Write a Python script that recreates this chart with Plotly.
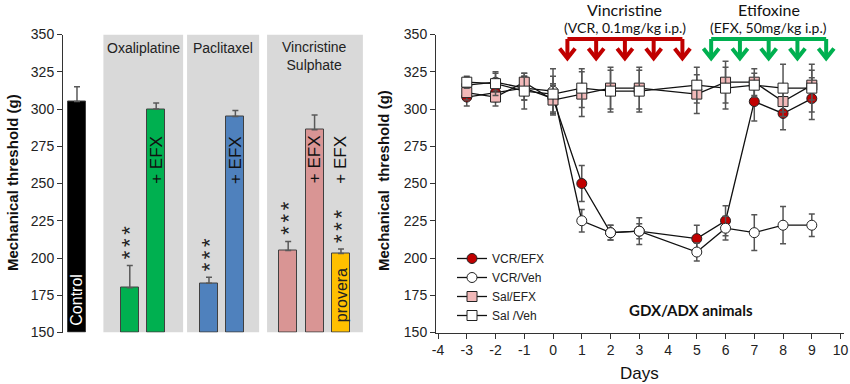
import plotly.graph_objects as go

# ---------------- Left panel data ----------------
bar_names = ["Control", "Oxaliplatine", "Oxaliplatine + EFX", "Paclitaxel",
             "Paclitaxel + EFX", "Vincristine", "Vincristine + EFX",
             "Vincristine + provera + EFX"]
bar_slots = [0, 2, 3, 5, 6, 8, 9, 10]
bar_values = [305, 180, 300, 183, 295, 205, 286, 203]
bar_errors = [10, 15, 4, 4, 4, 6, 10, 3]
bar_colors = ["#000000", "#00b050", "#00b050", "#4f81bd", "#4f81bd",
              "#d99594", "#d99594", "#ffc000"]
star_bars = [1, 3, 5, 7]
efx_bars = [2, 4, 6, 7]
group_titles = ["Oxaliplatine", "Paclitaxel", "Vincristine<br>Sulphate"]
group_panels = [(1.0, 4.02), (4.17, 6.9), (7.2, 10.83)]
y_ticks = [150, 175, 200, 225, 250, 275, 300, 325, 350]

# ---------------- Right panel data ----------------
days = [-3, -2, -1, 0, 1, 2, 3, 5, 6, 7, 8, 9]
vcr_efx = [308, 311, 314, 307, 250, 217, 218, 213, 225, 305, 297, 307]
vcr_efx_err = [6, 6, 8, 10, 12, 5, 9, 9, 10, 13, 11, 14]
vcr_veh = [316, 318, 314, 312, 225, 217, 218, 204, 220, 217, 222, 222]
vcr_veh_err = [5, 6, 8, 15, 7.5, 5, 5, 6, 8, 12, 12.5, 7.5]
sal_efx = [311, 308, 318, 306, 310, 314, 314, 310, 318, 318, 305, 316]
sal_efx_err = [5, 6, 6, 10, 15, 14, 14, 13, 14, 9, 10, 10]
sal_veh = [318, 317, 312, 310, 314, 312, 312, 316, 314, 316, 314, 314]
sal_veh_err = [4, 8, 12, 12, 13, 14, 14, 12, 14, 8, 16, 16]
day_ticks = list(range(-4, 11))
day_labels = [str(d) for d in day_ticks]
vcr_doses = [0.5, 1.5, 2.5, 3.5, 4.5]
efx_doses = [5.5, 6.5, 7.5, 8.5, 9.5]

FONT = "Liberation Sans, Arial, sans-serif"
CAL = "Lato, Open Sans, sans-serif"
W, H = 850, 384
Y0 = 1 - 332.5 / H
Y1 = 1 - 34.5 / H

fig = go.Figure()

# Left bars
fig.add_trace(go.Bar(
    x=bar_slots, y=[v - 150 for v in bar_values], base=150,
    width=0.68, marker=dict(color=bar_colors, line=dict(color="#404040", width=1)),
    error_y=dict(type="data", array=bar_errors, arrayminus=[0]*len(bar_errors),
                 symmetric=False, color="#595959", thickness=1.5, width=3),
    xaxis="x", yaxis="y", showlegend=False, hoverinfo="skip"))

# Right series
series = [
    ("VCR/EFX", vcr_efx, vcr_efx_err, "circle", "#c00000"),
    ("VCR/Veh", vcr_veh, vcr_veh_err, "circle", "#ffffff"),
    ("Sal/EFX", sal_efx, sal_efx_err, "square", "#f2b9b9"),
    ("Sal /Veh", sal_veh, sal_veh_err, "square", "#ffffff"),
]
for name, vals, errs, sym, col in series:
    fig.add_trace(go.Scatter(
        x=days, y=vals, name=name, mode="lines+markers",
        line=dict(color="#111111", width=1.3),
        marker=dict(symbol=sym, size=10, color=col, line=dict(color="#222222", width=1)),
        error_y=dict(type="data", array=errs, color="#555555", thickness=1.5, width=3),
        xaxis="x2", yaxis="y2"))

shapes = []
for (a, b) in group_panels:
    shapes.append(dict(type="rect", xref="x", yref="y", x0=a, x1=b, y0=150, y1=350,
                       fillcolor="#d9d9d9", line=dict(width=0), layer="below"))

def dose_shapes(doses, color):
    out = []
    lw = 4
    top = 347
    out.append(dict(type="line", xref="x2", yref="y2", x0=doses[0], x1=doses[-1],
                    y0=top, y1=top, line=dict(color=color, width=lw)))
    for d in doses:
        out.append(dict(type="line", xref="x2", yref="y2", x0=d, x1=d, y0=top, y1=335,
                        line=dict(color=color, width=lw)))
        out.append(dict(type="path", xref="x2", yref="y2",
                        path=f"M {d-0.27},340.6 L {d},334 L {d+0.27},340.6",
                        line=dict(color=color, width=lw)))
    return out

shapes += dose_shapes(vcr_doses, "#c00000")
shapes += dose_shapes(efx_doses, "#00b050")

ann = []
for t, (a, b) in zip(group_titles, group_panels):
    ann.append(dict(text=t, x=(a + b) / 2, y=1 - (48 if "<br>" not in t else 56) / H,
                    xref="x", yref="paper", showarrow=False, xanchor="center", yanchor="middle",
                    font=dict(family=FONT, size=14, color="#222222")))
for i in star_bars:
    ann.append(dict(text="*\u2006*\u2006*", x=bar_slots[i], y=bar_values[i] + bar_errors[i],
                    yshift=23, xref="x", yref="y", showarrow=False, textangle=-90,
                    xanchor="center", yanchor="middle",
                    font=dict(family=FONT, size=22, color="#222222")))
for i in efx_bars:
    ann.append(dict(text="+ EFX", x=bar_slots[i], y=266, xref="x", yref="y", showarrow=False,
                    textangle=-90, xanchor="center", yanchor="middle",
                    font=dict(family=FONT, size=17, color="#111111")))
ann.append(dict(text="Control", x=bar_slots[0], y=172, xref="x", yref="y", showarrow=False,
                textangle=-90, xanchor="center", yanchor="middle",
                font=dict(family=FONT, size=16, color="#ffffff")))
ann.append(dict(text="provera", x=bar_slots[7], y=175, xref="x", yref="y", showarrow=False,
                textangle=-90, xanchor="center", yanchor="middle",
                font=dict(family=FONT, size=16, color="#222222")))
# axis titles
ann.append(dict(text="<b>Mechanical threshold (g)</b>", x=12 / W, y=1 - 183 / H,
                xref="paper", yref="paper", showarrow=False, textangle=-90,
                xanchor="center", yanchor="middle",
                font=dict(family=FONT, size=15, color="#111111")))
ann.append(dict(text="<b>Mechanical  threshold (g)</b>", x=383 / W, y=1 - 181 / H,
                xref="paper", yref="paper", showarrow=False, textangle=-90,
                xanchor="center", yanchor="middle",
                font=dict(family=FONT, size=15, color="#111111")))
ann.append(dict(text="Days", x=3.0, y=1 - 373 / H, xref="x2", yref="paper", showarrow=False,
                xanchor="center", yanchor="middle",
                font=dict(family=FONT, size=17, color="#111111")))
ann.append(dict(text="<b>GDX/ADX animals</b>", x=4.8, y=1 - 310 / H, xref="x2", yref="paper",
                showarrow=False, xanchor="center", yanchor="middle",
                font=dict(family=CAL, size=15, color="#111111")))
for txt, xc, yc, sz in [("Vincristine", 2.5, 9, 16), ("(VCR, 0.1mg/kg i.p.)", 2.5, 28, 14),
                        ("Etifoxine", 7.5, 9, 16), ("(EFX, 50mg/kg i.p.)", 7.5, 28, 14)]:
    ann.append(dict(text=txt, x=xc, y=1 - yc / H, xref="x2", yref="paper", showarrow=False,
                    xanchor="center", yanchor="middle",
                    font=dict(family=CAL, size=sz, color="#111111")))

yax = dict(range=[150, 350], tickvals=y_ticks, ticks="outside", ticklen=5, tickwidth=1,
           tickcolor="#333333", showline=True, linecolor="#333333", linewidth=1,
           showgrid=False, zeroline=False, domain=[Y0, Y1], automargin=False,
           tickfont=dict(family=FONT, size=14, color="#222222"))

fig.update_layout(
    width=W, height=H, autosize=False,
    margin=dict(l=0, r=0, t=0, b=0, pad=0, autoexpand=False),
    paper_bgcolor="white", plot_bgcolor="white",
    xaxis=dict(domain=[63 / W, 365 / W], range=[-0.53, 10.91], visible=False,
               fixedrange=True, automargin=False),
    yaxis=dict(yax, anchor="x"),
    xaxis2=dict(domain=[436 / W, 844 / W], range=[-4.07, 10.12], tickvals=day_ticks,
                ticktext=day_labels,
                ticks="outside", ticklen=5, tickcolor="#333333", showline=True,
                linecolor="#333333", linewidth=1, showgrid=False, zeroline=False,
                anchor="y2", automargin=False,
                tickfont=dict(family=FONT, size=14, color="#222222")),
    yaxis2=dict(yax, anchor="x2"),
    shapes=shapes, annotations=ann,
    legend=dict(x=452 / W, y=1 - 244 / H, xanchor="left", yanchor="top",
                bgcolor="rgba(0,0,0,0)", font=dict(family=FONT, size=12, color="#222222"),
                itemwidth=30, tracegroupgap=0),
    bargap=0,
)

fig.write_html("out.html", config={"displayModeBar": False},
               post_script="document.body.style.margin='0';document.body.style.overflow='hidden';")
